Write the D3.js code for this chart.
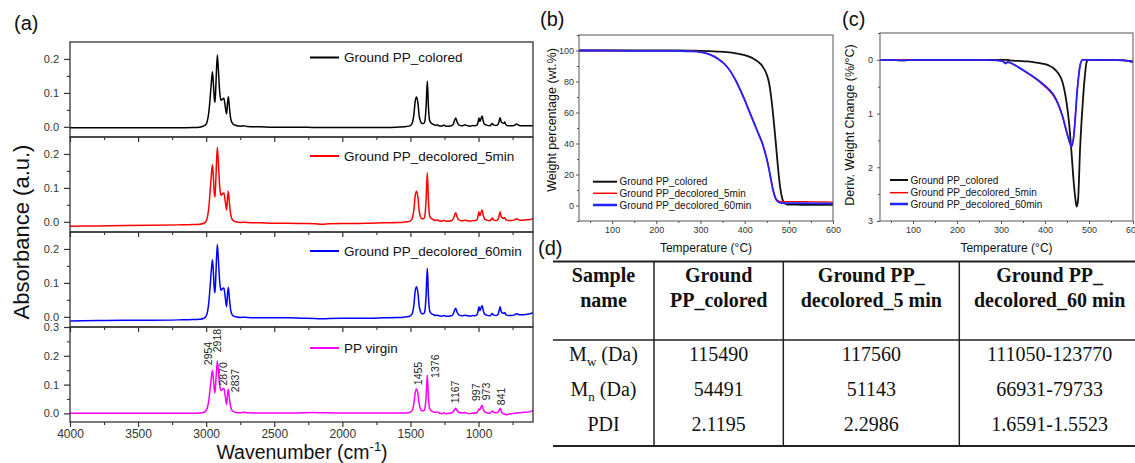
<!DOCTYPE html>
<html><head><meta charset="utf-8">
<script src="https://cdn.jsdelivr.net/npm/d3@7/dist/d3.min.js"></script>
<style>
body{margin:0;background:#fff}
svg{display:block}
text{font-family:Arial,"Liberation Sans",sans-serif}
.serif{font-family:"Liberation Serif","Times New Roman",serif}
</style>
</head><body>
<svg id="c" width="1135" height="463"></svg>
<script>
// ================= DATA =================
const wavenumbers = [4000,3800,3600,3400,3200,3100,3050,3020,3000,2990,2980,2970,2962,2954,2946,2940,2935,2928,2918,2910,2900,2890,2880,2870,2860,2850,2843,2837,2830,2820,2810,2800,2780,2750,2725,2700,2600,2500,2400,2300,2200,2150,2100,2000,1900,1800,1700,1600,1550,1510,1490,1475,1465,1455,1445,1435,1425,1415,1405,1395,1385,1376,1368,1360,1350,1340,1330,1315,1303,1290,1270,1256,1240,1220,1200,1185,1175,1167,1158,1145,1120,1100,1080,1060,1045,1030,1010,1003,997,990,984,978,973,966,955,940,920,910,899,888,870,855,848,841,834,826,815,808,798,780,760,740,720,700,680,650,620,600];

const absColored = [-0.003,-0.003,-0.003,-0.003,-0.003,-0.002,-0.001,0.002,0.008,0.02,0.045,0.09,0.13,0.162,0.12,0.082,0.072,0.13,0.212,0.165,0.1,0.078,0.082,0.084,0.06,0.038,0.072,0.089,0.06,0.025,0.012,0.007,0.004,0.002,0.003,0.001,0.0,-0.001,-0.001,-0.001,-0.002,-0.002,-0.002,-0.002,-0.002,-0.002,-0.002,-0.001,0.0,0.002,0.008,0.035,0.075,0.088,0.07,0.03,0.015,0.01,0.01,0.015,0.06,0.135,0.06,0.02,0.012,0.009,0.007,0.004,0.006,0.003,0.002,0.005,0.002,0.002,0.003,0.008,0.02,0.026,0.015,0.006,0.003,0.006,0.003,0.002,0.004,0.003,0.006,0.015,0.026,0.016,0.022,0.028,0.032,0.018,0.007,0.005,0.003,0.005,0.01,0.005,0.004,0.008,0.018,0.027,0.015,0.012,0.01,0.014,0.006,0.003,0.003,0.004,0.008,0.004,0.003,0.003,0.003,0.004];

const absDecolored5 = [-0.013,-0.012,-0.011,-0.010,-0.009,-0.008,-0.007,-0.005,0.002,0.015,0.045,0.095,0.138,0.168,0.125,0.082,0.073,0.135,0.22,0.17,0.1,0.078,0.083,0.085,0.06,0.035,0.072,0.09,0.058,0.022,0.008,0.003,0.0,-0.002,-0.001,-0.002,-0.003,-0.004,-0.004,-0.005,-0.006,-0.007,-0.006,-0.005,-0.005,-0.004,-0.003,-0.002,-0.001,0.001,0.007,0.035,0.077,0.09,0.072,0.03,0.014,0.009,0.009,0.015,0.065,0.145,0.062,0.02,0.011,0.008,0.006,0.004,0.006,0.003,0.002,0.005,0.002,0.002,0.003,0.009,0.021,0.027,0.015,0.006,0.003,0.005,0.003,0.002,0.004,0.003,0.007,0.018,0.03,0.018,0.025,0.031,0.035,0.02,0.008,0.005,0.003,0.005,0.011,0.005,0.004,0.009,0.02,0.03,0.016,0.012,0.01,0.013,0.006,0.004,0.004,0.005,0.009,0.005,0.005,0.006,0.007,0.01];

const absDecolored60 = [-0.012,-0.011,-0.010,-0.010,-0.009,-0.008,-0.007,-0.005,0.002,0.015,0.045,0.095,0.138,0.168,0.124,0.08,0.071,0.132,0.214,0.166,0.1,0.078,0.083,0.085,0.058,0.03,0.07,0.087,0.056,0.02,0.007,0.002,0.0,-0.002,-0.001,-0.002,-0.003,-0.003,-0.003,-0.004,-0.005,-0.006,-0.005,-0.004,-0.004,-0.004,-0.003,-0.002,-0.001,0.001,0.007,0.034,0.076,0.089,0.071,0.03,0.014,0.009,0.009,0.015,0.064,0.143,0.062,0.02,0.011,0.008,0.006,0.004,0.005,0.003,0.002,0.004,0.002,0.002,0.003,0.009,0.02,0.025,0.014,0.006,0.003,0.005,0.003,0.002,0.004,0.003,0.007,0.018,0.03,0.018,0.024,0.03,0.033,0.019,0.008,0.005,0.003,0.005,0.01,0.005,0.004,0.009,0.02,0.03,0.016,0.012,0.01,0.013,0.006,0.004,0.004,0.005,0.009,0.006,0.006,0.007,0.009,0.012];

const absVirgin = [0.0,0.0,0.0,0.0,0.0,0.0,0.001,0.003,0.01,0.022,0.048,0.09,0.125,0.15,0.115,0.08,0.072,0.12,0.182,0.145,0.095,0.08,0.084,0.086,0.06,0.031,0.068,0.084,0.055,0.022,0.01,0.006,0.003,0.002,0.004,0.002,0.001,0.001,0.001,0.002,0.003,0.002,0.002,0.001,0.001,0.001,0.001,0.001,0.001,0.003,0.008,0.033,0.072,0.085,0.068,0.03,0.014,0.009,0.009,0.014,0.058,0.133,0.055,0.018,0.01,0.007,0.005,0.003,0.005,0.002,-0.001,0.002,-0.001,0.0,0.001,0.006,0.014,0.018,0.01,0.004,0.001,0.003,0.0,-0.001,0.001,0.0,0.003,0.01,0.015,0.012,0.02,0.025,0.028,0.015,0.005,0.002,0.0,0.003,0.008,0.004,0.002,0.005,0.012,0.018,0.008,0.002,-0.002,-0.002,-0.005,-0.003,-0.001,0.0,0.001,0.002,0.003,0.004,0.006,0.01];

const ftirNames = ['Ground PP_colored','Ground PP_decolored_5min','Ground PP_decolored_60min','PP virgin'];
const ftirXTicks = [4000,3500,3000,2500,2000,1500,1000];
const ftirXMinor = [3750,3250,2750,2250,1750,1250,750];
const peakWavenumbers = [2954,2918,2870,2837,1455,1376,1167,997,973,841];
const peakLabels = ['2954','2918','2870','2837','1455','1376','1167','997','973','841'];

const tgaTemp = [25,50,100,150,200,250,280,300,320,340,360,380,400,410,420,430,440,450,455,460,465,470,475,480,485,490,495,500,520,550,580,600];
const tgaColored = [100,100,100,100,100,100,99.9,99.8,99.6,99.3,98.9,98.2,97.0,96.0,94.7,92.8,90.0,84.5,79.5,70.0,57.0,42.0,26.0,12.5,4.5,1.5,0.8,0.6,0.5,0.4,0.4,0.4];
const tgaDec5 = [100,100,100,99.9,99.9,99.8,99.6,99.1,97.7,94.8,89.8,81,68.5,61.5,54.5,47.5,40.5,30.5,24,16.5,9.5,5,3.2,2.6,2.5,2.5,2.5,2.5,2.5,2.4,2.3,2.2];
const tgaDec60 = [100,100,99.9,99.8,99.8,99.7,99.5,99,97.5,94.5,89.5,80.5,68,61,54,47,40,30,23.5,16,9,4.5,2.5,1.8,1.6,1.5,1.5,1.5,1.5,1.4,1.3,1.2];

const dtgTemp = [25,50,75,100,150,200,250,290,300,305,310,315,320,340,360,380,400,410,420,430,440,450,455,460,465,470,472,475,480,485,490,495,500,520,550,580,600];
const dtgColored = [0,0,0.01,0,0,0,0,0,0,0,0,0,0.01,0.02,0.03,0.05,0.08,0.11,0.16,0.25,0.42,0.85,1.2,1.7,2.25,2.65,2.73,2.62,1.6,0.9,0.35,0.03,0,0,0,0.01,0.03];
const dtgDec5 = [0,0,0,0,0,0,0,0.01,0.02,0.03,0.05,0.04,0.05,0.14,0.25,0.36,0.5,0.58,0.68,0.84,1.07,1.38,1.52,1.6,1.43,0.92,0.68,0.4,0.08,0,0,0,0,0,0,0.01,0.04];
const dtgDec60 = [0,0,0.01,0,0,0,0,0.01,0.02,0.03,0.07,0.04,0.05,0.14,0.24,0.35,0.48,0.56,0.66,0.82,1.05,1.36,1.5,1.62,1.45,0.95,0.7,0.42,0.1,0,0,0,0,0,0,0.01,0.04];

const tgaNames = ['Ground PP_colored','Ground PP_decolored_5min','Ground PP_decolored_60min'];
const tempTicks = [100,200,300,400,500,600];
const tempMinor = [50,150,250,350,450,550];
const tgaYTicks = [0,20,40,60,80,100];
const tgaYMinor = [-10,10,30,50,70,90,110];
const dtgYTicks = [0,1,2,3];
const dtgYMinor = [-0.5,0.5,1.5,2.5];

const tableHeader = [['Sample','name'],['Ground','PP_colored'],['Ground PP_','decolored_5 min'],['Ground PP_','decolored_60 min']];
const tableRowLabels = [['M','w',' (Da)'],['M','n',' (Da)'],['PDI','','']];
const tableRows = [['115490','117560','111050-123770'],['54491','51143','66931-79733'],['2.1195','2.2986','1.6591-1.5523']];

// ================= DRAW =================
const svg = d3.select('#c');
const tickCol = '#333';

// ---------- panel (a) ----------
const xA = d3.scaleLinear().domain([4000, 600]).range([70, 533]);
const subs = [
  {vals: absColored, color: '#000000', top: 42, dom: [-0.03, 0.25], ticks: [0, 0.1, 0.2], minor: [0.05, 0.15, 0.25], legY: 15.5},
  {vals: absDecolored5, color: '#ff0000', top: 137, dom: [-0.03, 0.25], ticks: [0, 0.1, 0.2], minor: [0.05, 0.15, 0.25], legY: 19},
  {vals: absDecolored60, color: '#0000ff', top: 232, dom: [-0.03, 0.25], ticks: [0, 0.1, 0.2], minor: [0.05, 0.15, 0.25], legY: 19},
  {vals: absVirgin, color: '#ff00ff', top: 327, dom: [-0.03, 0.3], ticks: [0, 0.1, 0.2, 0.3], minor: [0.05, 0.15, 0.25], legY: 21}
];
const subH = 95;
subs.forEach((s, i) => {
  const y = d3.scaleLinear().domain(s.dom).range([s.top + subH, s.top]);
  s.y = y;
  const g = svg.append('g');
  g.append('clipPath').attr('id', 'clipA' + i).append('rect')
    .attr('x', xA(4000)).attr('y', s.top).attr('width', xA(600) - xA(4000)).attr('height', subH);
  const pts = wavenumbers.map((w, j) => [w, s.vals[j]]);
  g.append('path').datum(pts)
    .attr('clip-path', `url(#clipA${i})`)
    .attr('fill', 'none').attr('stroke', s.color).attr('stroke-width', 1.5).attr('stroke-linejoin', 'round')
    .attr('d', d3.line().x(d => xA(d[0])).y(d => y(d[1])).curve(d3.curveMonotoneX));
  // frame
  g.append('rect').attr('x', xA(4000)).attr('y', s.top).attr('width', xA(600) - xA(4000)).attr('height', subH)
    .attr('fill', 'none').attr('stroke', '#333').attr('stroke-width', 1.3);
  // y axis
  const ya = g.append('g').attr('transform', `translate(${xA(4000)},0)`)
    .call(d3.axisLeft(y).tickValues(s.ticks).tickSize(6).tickPadding(5).tickFormat(d3.format('.1f')));
  ya.select('.domain').remove();
  ya.selectAll('line').attr('stroke', '#333').attr('stroke-width', 1.2);
  ya.selectAll('text').attr('font-size', 11).attr('fill', tickCol).style('font-family', 'Arial, "Liberation Sans", sans-serif');
  const ym = g.append('g').attr('transform', `translate(${xA(4000)},0)`)
    .call(d3.axisLeft(y).tickValues(s.minor.filter(v => v < s.dom[1])).tickSize(3).tickFormat(''));
  ym.select('.domain').remove();
  ym.selectAll('line').attr('stroke', '#333').attr('stroke-width', 1.1);
  // x axis
  const xa = g.append('g').attr('transform', `translate(0,${s.top + subH})`)
    .call(d3.axisBottom(xA).tickValues(ftirXTicks).tickSize(5).tickPadding(2).tickFormat(i === 3 ? d3.format('d') : ''));
  xa.select('.domain').remove();
  xa.selectAll('line').attr('stroke', '#333').attr('stroke-width', 1.2);
  xa.selectAll('text').attr('font-size', 12).attr('fill', tickCol).style('font-family', 'Arial, "Liberation Sans", sans-serif');
  const xm = g.append('g').attr('transform', `translate(0,${s.top + subH})`)
    .call(d3.axisBottom(xA).tickValues(ftirXMinor).tickSize(3).tickFormat(''));
  xm.select('.domain').remove();
  xm.selectAll('line').attr('stroke', '#333').attr('stroke-width', 1.1);
  // legend
  const ly = s.top + s.legY;
  g.append('line').attr('x1', 310).attr('x2', 339).attr('y1', ly).attr('y2', ly)
    .attr('stroke', s.color).attr('stroke-width', 2);
  g.append('text').attr('x', 344).attr('y', ly).attr('dy', '0.35em')
    .attr('font-size', 13.5).attr('fill', '#111').text(ftirNames[i]);
});

// peak labels on PP virgin
const sv = subs[3];
const labDx = [-4, 0, -1, 6.5, 1.7, 7.7, 0, -3, 4.5, 1.5];
const labGap = [5, 8.7, 3, -3, 3.7, -2.8, 5, 8, 5, 3];
peakWavenumbers.forEach((w, i) => {
  const j = wavenumbers.indexOf(w);
  const x = xA(w) + labDx[i];
  const yy = sv.y(absVirgin[j]) - labGap[i];
  svg.append('text').attr('transform', `translate(${x},${yy}) rotate(-90)`)
    .attr('dy', '0.35em').attr('font-size', 10.5).attr('fill', '#222').text(peakLabels[i]);
});

// axis titles (a)
svg.append('text').attr('transform', 'translate(29,232) rotate(-90)').attr('text-anchor', 'middle')
  .attr('font-size', 22).attr('fill', '#111').text('Absorbance (a.u.)');
const wt = svg.append('text').attr('x', 302).attr('y', 458.5).attr('text-anchor', 'middle')
  .attr('font-size', 19.5).attr('fill', '#111');
wt.append('tspan').text('Wavenumber (cm');
wt.append('tspan').attr('font-size', 13).attr('dy', -8).text('-1');
wt.append('tspan').attr('dy', 8).text(')');
svg.append('text').attr('x', 14).attr('y', 30).attr('font-size', 20).attr('fill', '#111').text('(a)');

// ---------- panels (b), (c) ----------
function thermoPanel(o) {
  const g = svg.append('g');
  const x = d3.scaleLinear().domain([25, 600]).range([o.left, o.right]);
  const y = d3.scaleLinear().domain(o.ydom).range(o.yrange);
  g.append('clipPath').attr('id', o.id).append('rect')
    .attr('x', o.left).attr('y', o.top).attr('width', o.right - o.left).attr('height', o.bottom - o.top);
  o.series.forEach(s => {
    g.append('path').datum(o.temp.map((t, j) => [t, s.vals[j]]))
      .attr('clip-path', `url(#${o.id})`)
      .attr('fill', 'none').attr('stroke', s.color).attr('stroke-width', s.w).attr('stroke-linejoin', 'round')
      .attr('d', d3.line().x(d => x(d[0])).y(d => y(d[1])).curve(d3.curveMonotoneX));
  });
  g.append('rect').attr('x', o.left).attr('y', o.top).attr('width', o.right - o.left).attr('height', o.bottom - o.top)
    .attr('fill', 'none').attr('stroke', '#555').attr('stroke-width', 1);
  const ya = g.append('g').attr('transform', `translate(${o.left},0)`)
    .call(d3.axisLeft(y).tickValues(o.yticks).tickSize(3).tickPadding(o.ypad).tickFormat(d3.format('d')));
  ya.select('.domain').remove();
  ya.selectAll('line').attr('stroke', '#555');
  ya.selectAll('text').attr('font-size', 9).attr('fill', tickCol).style('font-family', 'Arial, "Liberation Sans", sans-serif');
  const ym = g.append('g').attr('transform', `translate(${o.left},0)`)
    .call(d3.axisLeft(y).tickValues(o.yminor).tickSize(2).tickFormat(''));
  ym.select('.domain').remove();
  ym.selectAll('line').attr('stroke', '#555');
  const xa = g.append('g').attr('transform', `translate(0,${o.bottom})`)
    .call(d3.axisBottom(x).tickValues(tempTicks).tickSize(3).tickPadding(3).tickFormat(d3.format('d')));
  xa.select('.domain').remove();
  xa.selectAll('line').attr('stroke', '#555');
  xa.selectAll('text').attr('font-size', 9).attr('fill', tickCol).style('font-family', 'Arial, "Liberation Sans", sans-serif');
  const xm = g.append('g').attr('transform', `translate(0,${o.bottom})`)
    .call(d3.axisBottom(x).tickValues(tempMinor).tickSize(2).tickFormat(''));
  xm.select('.domain').remove();
  xm.selectAll('line').attr('stroke', '#555');
  // titles
  g.append('text').attr('x', (o.left + o.right) / 2).attr('y', 252).attr('text-anchor', 'middle')
    .attr('font-size', 12).attr('fill', '#111').text('Temperature (°C)');
  g.append('text').attr('transform', `translate(${o.ytx},${o.yty}) rotate(-90)`).attr('text-anchor', 'middle')
    .attr('dy', '0.35em').attr('font-size', 12.5).attr('fill', '#111').text(o.ytitle);
  // legend
  o.series.forEach((s, i) => {
    const ly = o.legY[i];
    g.append('line').attr('x1', o.legX[0]).attr('x2', o.legX[1]).attr('y1', ly).attr('y2', ly)
      .attr('stroke', s.color).attr('stroke-width', s.lw);
    g.append('text').attr('x', o.legX[1] + 2.5).attr('y', ly).attr('dy', '0.35em')
      .attr('font-size', 10).attr('fill', '#111').text(tgaNames[i]);
  });
  g.append('text').attr('x', o.labX).attr('y', 26).attr('font-size', 20).attr('fill', '#111').text(o.label);
}

thermoPanel({
  id: 'clipB', left: 579, right: 833, top: 35, bottom: 221, ydom: [-10, 110], yrange: [221, 35],
  yticks: tgaYTicks, yminor: tgaYMinor, ypad: 2, temp: tgaTemp,
  series: [
    {vals: tgaColored, color: '#111', w: 1.8, lw: 2},
    {vals: tgaDec5, color: '#ff0000', w: 1.3, lw: 1.5},
    {vals: tgaDec60, color: '#2222ff', w: 1.8, lw: 2.5}
  ],
  ytitle: 'Weight percentage (wt.%)', ytx: 552, yty: 120,
  legX: [593, 617], legY: [181.7, 193.3, 205], label: '(b)', labX: 540
});
thermoPanel({
  id: 'clipC', left: 880, right: 1133, top: 33, bottom: 221, ydom: [-0.5, 3], yrange: [33, 221],
  yticks: dtgYTicks, yminor: dtgYMinor, ypad: 4, temp: dtgTemp,
  series: [
    {vals: dtgColored, color: '#111', w: 1.8, lw: 2},
    {vals: dtgDec5, color: '#ff0000', w: 1.3, lw: 1.5},
    {vals: dtgDec60, color: '#2222ff', w: 1.8, lw: 2.5}
  ],
  ytitle: 'Deriv. Weight Change (%/°C)', ytx: 850, yty: 125,
  legX: [890, 908], legY: [180, 192.7, 204], label: '(c)', labX: 842
});

// ---------- panel (d) table ----------
const colEdges = [553, 654, 783.3, 959.3, 1140];
const colCenters = colEdges.slice(0, -1).map((e, i) => (e + colEdges[i + 1]) / 2);
const tTop = 261.5, tMid = 340, tBot = 446;
const tg = svg.append('g');
tg.append('line').attr('x1', colEdges[0]).attr('x2', colEdges[4]).attr('y1', tTop).attr('y2', tTop).attr('stroke', '#222').attr('stroke-width', 2);
tg.append('line').attr('x1', colEdges[0]).attr('x2', colEdges[4]).attr('y1', tMid).attr('y2', tMid).attr('stroke', '#222').attr('stroke-width', 1.5);
tg.append('line').attr('x1', colEdges[0]).attr('x2', colEdges[4]).attr('y1', tBot).attr('y2', tBot).attr('stroke', '#222').attr('stroke-width', 2);
[1, 2, 3].forEach(k => {
  tg.append('line').attr('x1', colEdges[k]).attr('x2', colEdges[k]).attr('y1', tTop).attr('y2', tBot).attr('stroke', '#222').attr('stroke-width', 1.5);
});
const headBase = [282, 306.5];
tableHeader.forEach((lines, c) => {
  lines.forEach((t, r) => {
    tg.append('text').attr('class', 'serif').attr('x', colCenters[c]).attr('y', headBase[r])
      .attr('text-anchor', 'middle').attr('font-size', 20).attr('font-weight', 'bold').attr('fill', '#111').text(t);
  });
});
const rowBase = [361, 396, 431];
tableRowLabels.forEach((lab, r) => {
  const t = tg.append('text').attr('class', 'serif').attr('x', colCenters[0]).attr('y', rowBase[r])
    .attr('text-anchor', 'middle').attr('font-size', 20).attr('fill', '#111');
  t.append('tspan').text(lab[0]);
  if (lab[1]) {
    t.append('tspan').attr('font-size', 13).attr('dy', 5).text(lab[1]);
    t.append('tspan').attr('dy', -5).text(lab[2]);
  }
});
tableRows.forEach((row, r) => {
  row.forEach((v, c) => {
    tg.append('text').attr('class', 'serif').attr('x', colCenters[c + 1]).attr('y', rowBase[r])
      .attr('text-anchor', 'middle').attr('font-size', 20).attr('fill', '#111').text(v);
  });
});
svg.append('text').attr('x', 538).attr('y', 255).attr('font-size', 20).attr('fill', '#111').text('(d)');
</script>
</body></html>
